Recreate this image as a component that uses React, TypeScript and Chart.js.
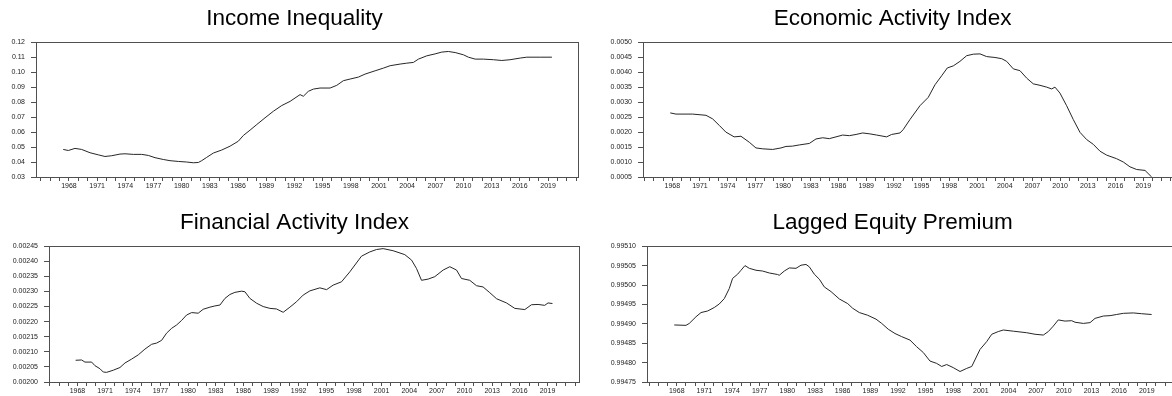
import React, { useEffect, useRef } from 'react';
import { Chart, registerables } from 'chart.js';

Chart.register(...registerables);

// ---------- axis categories ----------
const xTickYears = [1965, 1966, 1967, 1968, 1969, 1970, 1971, 1972, 1973, 1974, 1975, 1976, 1977, 1978, 1979, 1980, 1981, 1982, 1983, 1984, 1985, 1986, 1987, 1988, 1989, 1990, 1991, 1992, 1993, 1994, 1995, 1996, 1997, 1998, 1999, 2000, 2001, 2002, 2003, 2004, 2005, 2006, 2007, 2008, 2009, 2010, 2011, 2012, 2013, 2014, 2015, 2016, 2017, 2018, 2019, 2020, 2021, 2022];
const xLabelYears = [1968, 1971, 1974, 1977, 1980, 1983, 1986, 1989, 1992, 1995, 1998, 2001, 2004, 2007, 2010, 2013, 2016, 2019];

// ---------- Income Inequality ----------
const incomeTicks = [0.03, 0.04, 0.05, 0.06, 0.07, 0.08, 0.09, 0.10, 0.11, 0.12];
const incomeYears = [1967.39, 1967.93, 1968.64, 1969.35, 1970.24, 1971.12, 1971.83, 1972.55, 1973.43, 1973.96, 1974.85, 1975.74, 1976.45, 1977.16, 1978.04, 1978.76, 1979.64, 1980.53, 1981.24, 1981.77, 1982.13, 1982.66, 1983.37, 1984.26, 1985.15, 1986.03, 1986.56, 1987.28, 1987.99, 1988.87, 1989.76, 1990.65, 1991.54, 1992.60, 1992.95, 1993.48, 1994.02, 1994.73, 1995.80, 1996.51, 1997.21, 1997.93, 1998.81, 1999.52, 2000.59, 2001.47, 2002.19, 2003.25, 2003.96, 2004.67, 2005.20, 2006.09, 2006.98, 2007.69, 2008.39, 2009.11, 2009.99, 2010.52, 2011.24, 2012.12, 2013.19, 2014.08, 2014.96, 2016.03, 2016.74, 2018.16, 2019.41];
const incomeValues = [0.0484, 0.0477, 0.0491, 0.0484, 0.0462, 0.0448, 0.0437, 0.0442, 0.0453, 0.0455, 0.0451, 0.0451, 0.0444, 0.0429, 0.0417, 0.0409, 0.0404, 0.0400, 0.0395, 0.0397, 0.0409, 0.0431, 0.0460, 0.0480, 0.0506, 0.0539, 0.0577, 0.0613, 0.0650, 0.0695, 0.0739, 0.0777, 0.0805, 0.0850, 0.0839, 0.0872, 0.0887, 0.0894, 0.0894, 0.0912, 0.0943, 0.0954, 0.0967, 0.0987, 0.1009, 0.1027, 0.1043, 0.1054, 0.1060, 0.1065, 0.1087, 0.1109, 0.1122, 0.1134, 0.1138, 0.1131, 0.1116, 0.1100, 0.1087, 0.1087, 0.1083, 0.1078, 0.1083, 0.1094, 0.1100, 0.1100, 0.1100];

// ---------- Economic Activity Index ----------
const econTicks = [0.0005, 0.0010, 0.0015, 0.0020, 0.0025, 0.0030, 0.0035, 0.0040, 0.0045, 0.0050];
const econYears = [1967.78, 1968.40, 1970.20, 1971.65, 1972.37, 1973.10, 1973.80, 1974.70, 1975.44, 1976.34, 1977.06, 1977.80, 1978.87, 1979.77, 1980.31, 1981.00, 1981.75, 1982.84, 1983.56, 1984.29, 1985.00, 1985.73, 1986.45, 1987.17, 1987.90, 1988.62, 1989.40, 1990.13, 1991.21, 1991.75, 1992.66, 1993.00, 1993.74, 1994.82, 1995.72, 1996.45, 1997.17, 1997.78, 1998.43, 1999.15, 1999.88, 2000.60, 2001.32, 2002.04, 2002.94, 2003.67, 2004.21, 2004.93, 2005.65, 2006.38, 2007.09, 2007.82, 2008.54, 2009.08, 2009.44, 2009.98, 2010.70, 2011.42, 2012.15, 2012.87, 2013.59, 2014.32, 2015.04, 2016.12, 2016.84, 2017.56, 2018.29, 2019.19, 2019.91];
const econValues = [0.00264, 0.00260, 0.00260, 0.00256, 0.00244, 0.00222, 0.00200, 0.00184, 0.00186, 0.00166, 0.00147, 0.00144, 0.00142, 0.00147, 0.00152, 0.00153, 0.00157, 0.00162, 0.00177, 0.00181, 0.00178, 0.00184, 0.00190, 0.00188, 0.00192, 0.00197, 0.00194, 0.00190, 0.00184, 0.00192, 0.00197, 0.00208, 0.00242, 0.00288, 0.00316, 0.00358, 0.00388, 0.00414, 0.00421, 0.00436, 0.00455, 0.00460, 0.00461, 0.00452, 0.00449, 0.00445, 0.00436, 0.00411, 0.00405, 0.00380, 0.00361, 0.00356, 0.00350, 0.00344, 0.00350, 0.00330, 0.00288, 0.00242, 0.00199, 0.00175, 0.00159, 0.00136, 0.00123, 0.00111, 0.00100, 0.00084, 0.00075, 0.00072, 0.00050];

// ---------- Financial Activity Index ----------
const finTicks = [0.00200, 0.00205, 0.00210, 0.00215, 0.00220, 0.00225, 0.00230, 0.00235, 0.00240, 0.00245];
const finYears = [1967.80, 1968.45, 1968.81, 1969.54, 1969.90, 1970.44, 1970.80, 1971.17, 1971.88, 1972.61, 1973.15, 1973.88, 1974.60, 1975.32, 1976.05, 1976.59, 1977.13, 1977.67, 1978.22, 1978.76, 1979.30, 1979.84, 1980.39, 1981.10, 1981.64, 1982.37, 1982.91, 1983.46, 1984.00, 1984.54, 1985.08, 1985.81, 1986.17, 1986.71, 1987.44, 1988.15, 1988.88, 1989.60, 1990.32, 1991.05, 1991.77, 1992.49, 1993.22, 1994.30, 1995.03, 1995.74, 1996.65, 1997.55, 1998.82, 1999.72, 2000.45, 2001.17, 2002.25, 2003.52, 2004.25, 2004.79, 2005.33, 2006.05, 2006.77, 2007.68, 2008.40, 2009.13, 2009.67, 2010.57, 2011.30, 2012.01, 2012.74, 2013.47, 2014.55, 2015.45, 2016.54, 2017.26, 2017.98, 2018.70, 2019.06, 2019.54];
const finValues = [0.002072, 0.002073, 0.002066, 0.002066, 0.002054, 0.002044, 0.002033, 0.002032, 0.002039, 0.002048, 0.002063, 0.002076, 0.002090, 0.002109, 0.002125, 0.002129, 0.002138, 0.002162, 0.002178, 0.002189, 0.002204, 0.002222, 0.002230, 0.002228, 0.002241, 0.002248, 0.002252, 0.002255, 0.002277, 0.002290, 0.002297, 0.002301, 0.002299, 0.002277, 0.002261, 0.002250, 0.002244, 0.002242, 0.002231, 0.002248, 0.002266, 0.002288, 0.002302, 0.002312, 0.002306, 0.002321, 0.002332, 0.002365, 0.002417, 0.002431, 0.002439, 0.002442, 0.002435, 0.002422, 0.002404, 0.002376, 0.002337, 0.002341, 0.002349, 0.002371, 0.002382, 0.002371, 0.002343, 0.002337, 0.002319, 0.002315, 0.002296, 0.002276, 0.002262, 0.002244, 0.002240, 0.002256, 0.002257, 0.002254, 0.002262, 0.002260];

// ---------- Lagged Equity Premium ----------
const eqTicks = [0.99475, 0.99480, 0.99485, 0.99490, 0.99495, 0.99500, 0.99505, 0.99510];
const eqYears = [1967.73, 1969.00, 1969.36, 1970.08, 1970.63, 1971.35, 1972.07, 1972.61, 1973.16, 1973.70, 1974.06, 1974.61, 1974.97, 1975.40, 1975.87, 1976.60, 1977.32, 1978.04, 1978.95, 1979.12, 1979.67, 1980.21, 1980.94, 1981.48, 1982.02, 1982.38, 1982.92, 1983.47, 1984.01, 1984.74, 1985.64, 1986.55, 1987.09, 1987.81, 1988.72, 1989.62, 1990.24, 1990.95, 1991.68, 1992.40, 1993.31, 1994.03, 1994.75, 1995.48, 1996.20, 1996.75, 1997.29, 1998.01, 1998.74, 1999.46, 2000.01, 2000.91, 2001.63, 2002.18, 2002.89, 2003.44, 2004.52, 2005.98, 2006.88, 2007.78, 2008.32, 2008.86, 2009.40, 2010.13, 2010.86, 2011.22, 2012.12, 2012.85, 2013.39, 2014.29, 2015.02, 2015.74, 2016.47, 2017.55, 2018.44, 2019.53];
const eqValues = [0.994897, 0.994896, 0.994901, 0.994918, 0.994929, 0.994933, 0.994942, 0.994951, 0.994965, 0.994991, 0.995017, 0.995028, 0.995038, 0.995050, 0.995043, 0.995038, 0.995036, 0.995031, 0.995027, 0.995025, 0.995036, 0.995044, 0.995043, 0.995051, 0.995053, 0.995047, 0.995028, 0.995015, 0.994995, 0.994983, 0.994964, 0.994952, 0.994940, 0.994929, 0.994922, 0.994912, 0.994901, 0.994886, 0.994875, 0.994867, 0.994858, 0.994841, 0.994826, 0.994804, 0.994798, 0.994790, 0.994795, 0.994787, 0.994777, 0.994785, 0.994790, 0.994834, 0.994854, 0.994873, 0.994880, 0.994884, 0.994881, 0.994877, 0.994873, 0.994871, 0.994880, 0.994894, 0.994910, 0.994907, 0.994908, 0.994904, 0.994901, 0.994903, 0.994914, 0.994920, 0.994921, 0.994924, 0.994927, 0.994928, 0.994926, 0.994924];

const FONT = 'Arial, "Liberation Sans", sans-serif';
const AXIS_COLOR = '#505050';

function Panel(props: any) {
  const { title, titleX, years, values, yTicks, decimals, xMin, xMax, left, top, width, height, plotLeft, plotRight, plotBottom } = props;
  const ref = useRef<HTMLCanvasElement>(null);

  useEffect(() => {
    const panelPlugin = {
      id: 'panelDecor',
      afterDraw(chart: any) {
        const { ctx, chartArea: a } = chart;
        ctx.save();
        ctx.strokeStyle = AXIS_COLOR;
        ctx.lineWidth = 1;
        ctx.strokeRect(Math.round(a.left) + 0.5, Math.round(a.top) + 0.5, Math.round(a.right - a.left), Math.round(a.bottom - a.top));
        ctx.font = `22.5px ${FONT}`;
        ctx.fillStyle = '#000';
        ctx.textAlign = 'center';
        ctx.textBaseline = 'middle';
        ctx.fillText(title, titleX, 19);
        ctx.restore();
      },
    };
    const chart = new Chart(ref.current as HTMLCanvasElement, {
      type: 'line',
      data: {
        datasets: [
          {
            data: years.map((x: number, i: number) => ({ x, y: values[i] })),
            borderColor: '#262626',
            borderWidth: 1,
            pointRadius: 0,
            tension: 0,
            fill: false,
          },
        ],
      },
      options: {
        animation: false,
        responsive: false,
        events: [],
        layout: { padding: { left: 0, right: width - plotRight, top: 42.2, bottom: 0 } },
        plugins: {
          legend: { display: false },
          tooltip: { enabled: false },
          title: { display: false },
        },
        scales: {
          x: {
            type: 'linear',
            min: xMin,
            max: xMax,
            afterBuildTicks: (s: any) => {
              s.ticks = xTickYears.map((v) => ({ value: v }));
            },
            afterFit: (s: any) => {
              s.height = height - plotBottom;
            },
            grid: { drawOnChartArea: false, drawTicks: true, tickLength: 4, color: AXIS_COLOR },
            border: { display: true, color: AXIS_COLOR, width: 1 },
            ticks: {
              autoSkip: false,
              maxRotation: 0,
              minRotation: 0,
              padding: 1,
              color: '#222',
              font: { family: FONT, size: 7 },
              callback: (v: any) => (xLabelYears.includes(Number(v)) ? String(v) : ''),
            },
          },
          y: {
            type: 'linear',
            min: yTicks[0],
            max: yTicks[yTicks.length - 1],
            afterBuildTicks: (s: any) => {
              s.ticks = yTicks.map((v: number) => ({ value: v }));
            },
            afterFit: (s: any) => {
              s.width = plotLeft;
            },
            grid: { drawOnChartArea: false, drawTicks: true, tickLength: 5, color: AXIS_COLOR },
            border: { display: true, color: AXIS_COLOR, width: 1 },
            ticks: {
              padding: 6,
              color: '#222',
              font: { family: FONT, size: 7 },
              callback: (v: any) => Number(v).toFixed(decimals),
            },
          },
        },
      },
      plugins: [panelPlugin],
    } as any);
    return () => chart.destroy();
  }, []);

  return (
    <canvas
      ref={ref}
      width={width}
      height={height}
      style={{ position: 'absolute', left, top, width, height }}
    />
  );
}

export default function App() {
  return (
    <div style={{ position: 'fixed', left: 0, top: 0, width: 1172, height: 396, overflow: 'hidden', background: '#fff' }}>
      <Panel title="Income Inequality" titleX={294.5} years={incomeYears} values={incomeValues} yTicks={incomeTicks} decimals={2}
        xMin={1964.49} xMax={2022.19} left={0} top={0} width={586} height={192} plotLeft={36} plotRight={578} plotBottom={177} />
      <Panel title="Economic Activity Index" titleX={306.6} years={econYears} values={econValues} yTicks={econTicks} decimals={4}
        xMin={1964.83} xMax={2022.22} left={586} top={0} width={590} height={192} plotLeft={57} plotRight={587} plotBottom={177} />
      <Panel title="Financial Activity Index" titleX={294.5} years={finYears} values={finValues} yTicks={finTicks} decimals={5}
        xMin={1964.91} xMax={2022.42} left={0} top={204} width={586} height={192} plotLeft={49} plotRight={579} plotBottom={178} />
      <Panel title="Lagged Equity Premium" titleX={306.6} years={eqYears} values={eqValues} yTicks={eqTicks} decimals={5}
        xMin={1964.77} xMax={2021.85} left={586} top={204} width={590} height={192} plotLeft={61} plotRight={587} plotBottom={178} />
    </div>
  );
}
